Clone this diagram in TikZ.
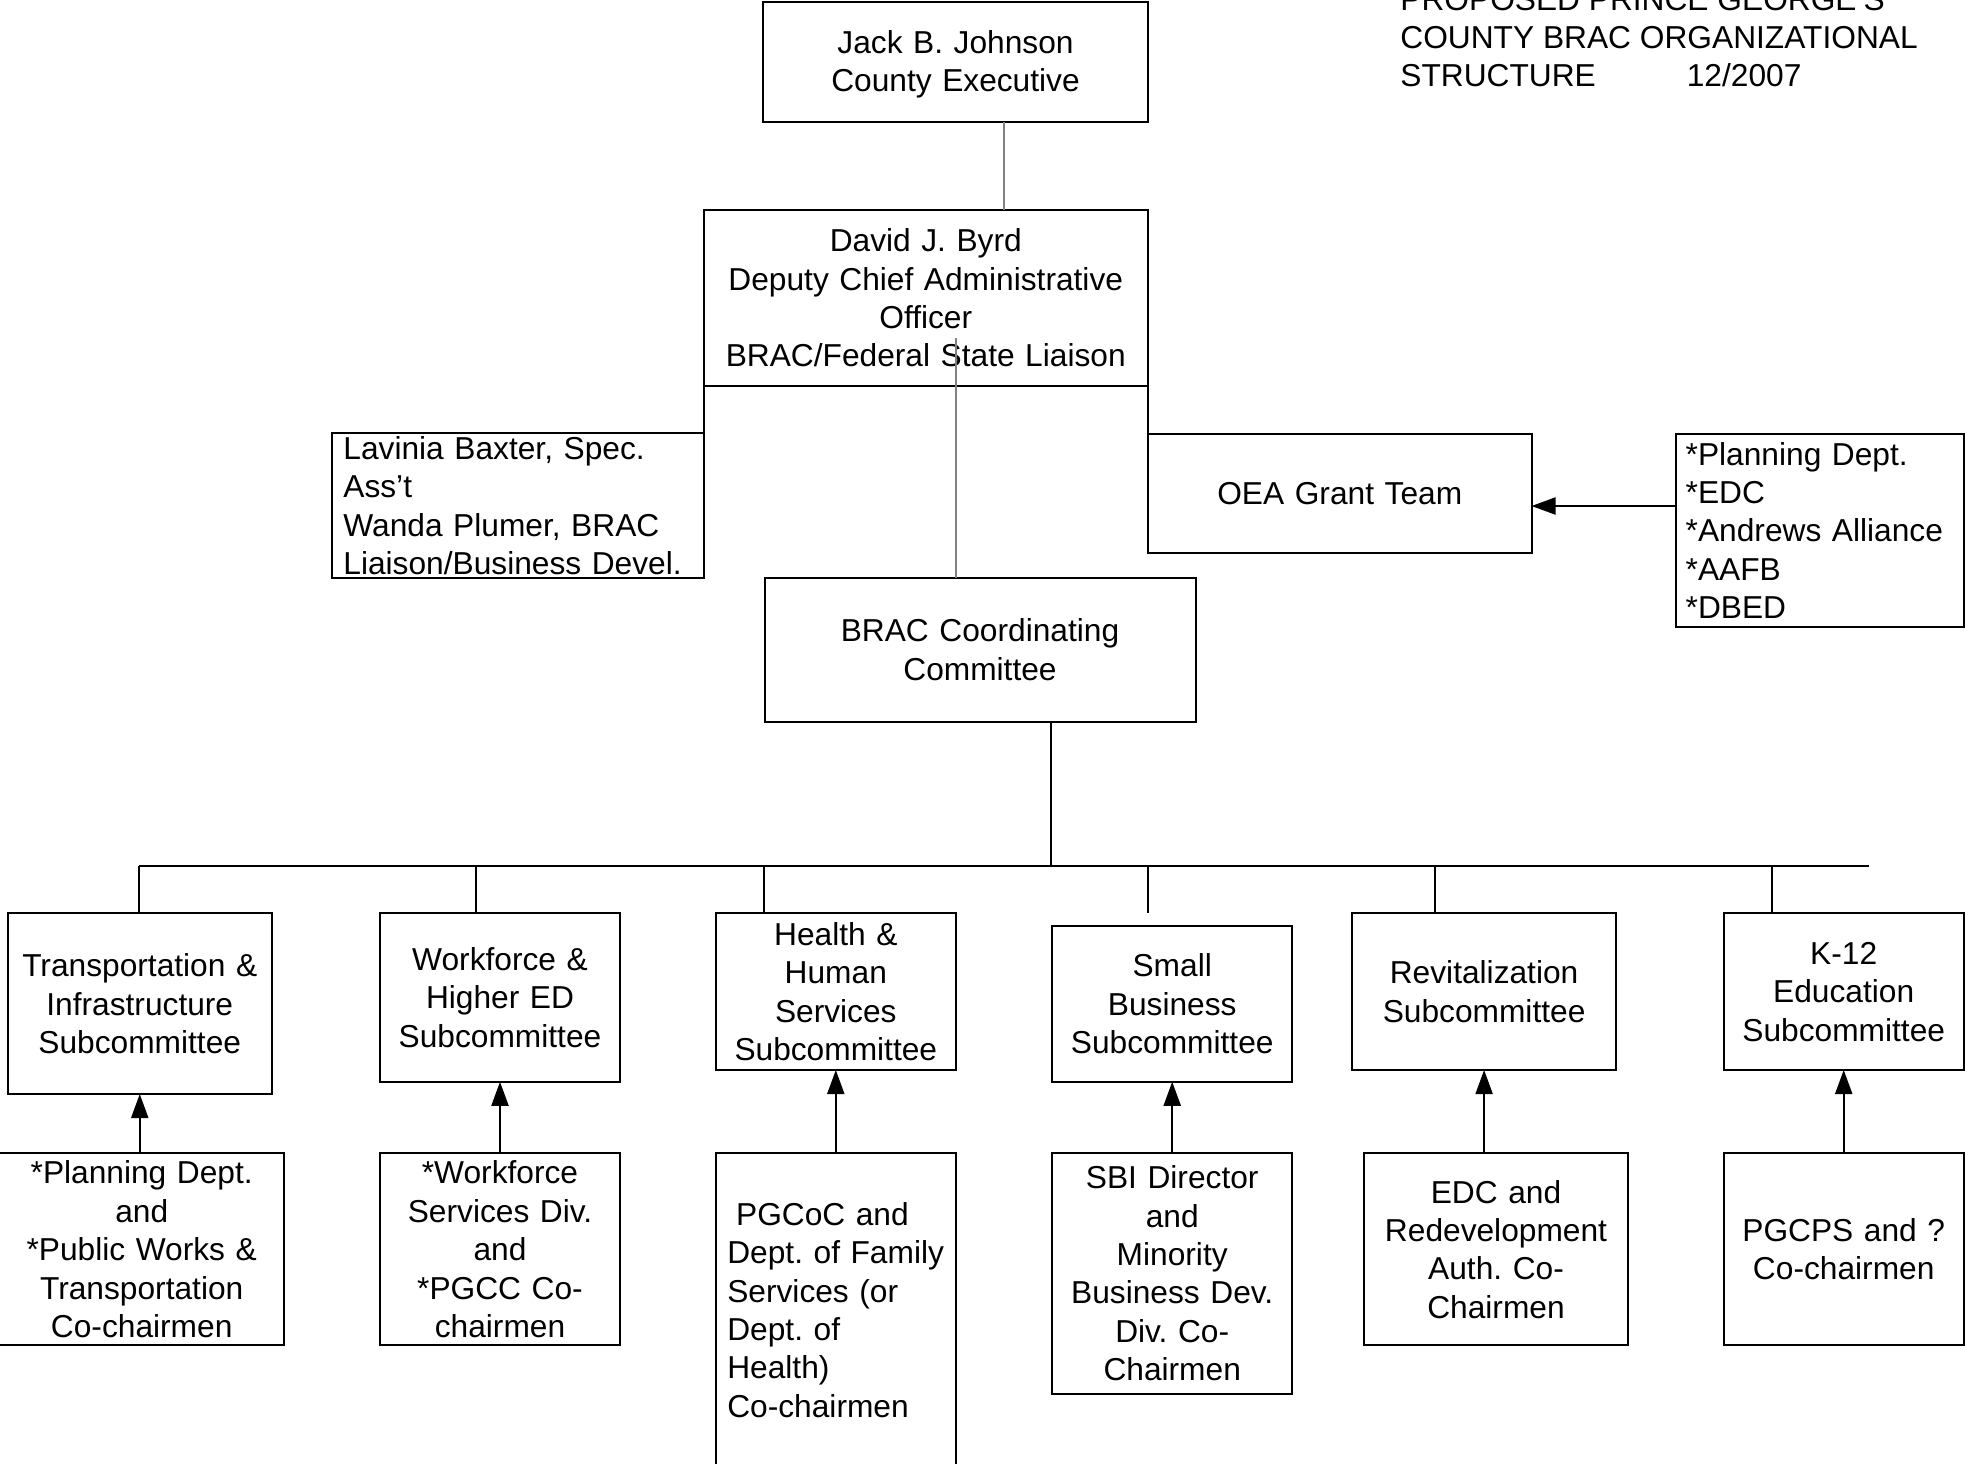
\documentclass[tikz,border=0pt]{standalone}
\usepackage{fontspec}
\setmainfont{Liberation Sans}
\usetikzlibrary{arrows.meta,calc}
\newcommand\chartfont{\fontsize{31.7}{38.4}\selectfont\frenchspacing\hyphenpenalty 10000\relax}

\begin{document}
\begin{tikzpicture}[x=1pt,y=-1pt,line width=2pt,
  every node/.style={font=\chartfont},
  box/.style={draw,outer sep=0pt,inner xsep=4pt,inner ysep=0pt,align=center},
  leftbox/.style={draw,outer sep=0pt,inner ysep=0pt,align=left},
  grayline/.style={draw=gray},
  arr/.style={-{Triangle[length=24pt,width=17pt]}}]
  \useasboundingbox (0,0) rectangle (1965,1464);
  % title
  \node[anchor=north west,inner sep=0pt,align=left] (title) at (1399.4,-13)
    {PROPOSED PRINCE GEORGE’S\\COUNTY BRAC ORGANIZATIONAL\\STRUCTURE\hspace*{91pt}12/2007};
  % top of the chart
  \node[box,minimum width=385pt,minimum height=120pt,text width=377pt] (jack) at (955.5,62)
    {\rule{0pt}{28pt}Jack B. Johnson\\County Executive};
  \node[box,minimum width=444.5pt,minimum height=176pt,text width=436.5pt] (byrd) at (925.75,298)
    {David J. Byrd\\Deputy Chief Administrative\\Officer\\BRAC/Federal State Liaison};
  \node[leftbox,inner xsep=11.9pt,minimum width=372pt,minimum height=144.4pt,text width=348.2pt] (lavinia) at (517.5,505.5)
    {Lavinia Baxter, Spec.\\Ass’t\\Wanda Plumer, BRAC\\Liaison/Business Devel.};
  \node[box,minimum width=383.5pt,minimum height=119pt,text width=375.5pt] (oea) at (1339.75,493.5)
    {OEA Grant Team};
  \node[leftbox,inner xsep=10pt,minimum width=288.6pt,minimum height=192.7pt,text width=268.6pt] (members) at (1820,530.35)
    {*Planning Dept.\\{}*EDC\\{}*Andrews Alliance\\{}*AAFB\\{}*DBED};
  \node[box,minimum width=431pt,minimum height=144pt,text width=423pt] (brac) at (980,649.75)
    {BRAC Coordinating\\Committee};
  % subcommittees
  \node[box,minimum width=264.5pt,minimum height=180.6pt,text width=256.5pt] (trans) at (139.75,1003.7)
    {Transportation \&\\Infrastructure\\Subcommittee};
  \node[box,minimum width=240pt,minimum height=168.4pt,text width=232pt] (work) at (500,997.6)
    {Workforce \&\\Higher ED\\Subcommittee};
  \node[box,minimum width=240.4pt,minimum height=156.6pt,text width=232.4pt] (health) at (835.8,991.7)
    {Health \&\\Human\\Services\\Subcommittee};
  \node[box,minimum width=240pt,minimum height=155.5pt,text width=232pt] (small) at (1172.2,1004)
    {Small\\Business\\Subcommittee};
  \node[box,minimum width=264.4pt,minimum height=156.6pt,text width=256.4pt] (revit) at (1484.1,991.7)
    {Revitalization\\Subcommittee};
  \node[box,minimum width=240pt,minimum height=156.6pt,text width=232pt] (kedu) at (1843.7,991.7)
    {K-12\\Education\\Subcommittee};
  % co-chairmen
  \node[box,minimum width=285.4pt,minimum height=191.9pt,text width=277.4pt] (trans-co) at (141.7,1249.35)
    {*Planning Dept.\\and\\{}*Public Works \&\\Transportation\\Co-chairmen};
  \node[box,minimum width=240pt,minimum height=191.9pt,text width=232pt] (work-co) at (500,1249.35)
    {*Workforce\\Services Div.\\and\\{}*PGCC Co-\\chairmen};
  \node[leftbox,inner xsep=11.7pt,minimum width=240.4pt,minimum height=313pt,text width=217pt] (health-co) at (835.8,1309.9)
    {\hspace*{8.8pt}PGCoC and\\Dept. of Family\\Services (or\\Dept. of\\Health)\\Co-chairmen};
  \node[box,minimum width=240pt,minimum height=240.1pt,text width=232pt] (small-co) at (1172.2,1273.45)
    {SBI Director\\and\\Minority\\Business Dev.\\Div. Co-\\Chairmen};
  \node[box,minimum width=263.2pt,minimum height=191.9pt,text width=255.2pt] (revit-co) at (1496,1249.35)
    {EDC and\\Redevelopment\\Auth. Co-\\Chairmen};
  \node[box,minimum width=240pt,minimum height=191.9pt,text width=232pt] (kedu-co) at (1843.7,1249.35)
    {PGCPS and ?\\Co-chairmen};
  % connectors
  \coordinate (jb) at (1004,122);
  \draw[grayline] (jb) -- (jb |- byrd.north);
  \coordinate (bc) at (955.7,338);
  \draw[grayline] (bc) -- (bc |- brac.north);
  \draw (byrd.south west) -- (lavinia.north east);
  \draw (byrd.south east) -- (oea.north west);
  \coordinate (oa) at ([yshift=-12.5pt]oea.east);
  \draw[arr] (oa -| members.west) -- (oa);
  \coordinate (bus) at (139.4,865.7);
  \coordinate (busend) at (1868.7,865.7);
  \draw (bus) -- (busend);
  \coordinate (stem) at ([xshift=71.4pt]brac.south);
  \draw (stem) -- (stem |- bus);
  \foreach \s/\x in {trans/139.4,work/476,health/763.5,revit/1435.4,kedu/1771.5}
    \draw (bus -| \x,0) -- (\s.north -| \x,0);
  \coordinate (smalltop) at (1147.7,913.4);
  \draw (bus -| smalltop) -- (smalltop);
  \foreach \s in {trans,work,health,small,revit,kedu}
    \draw[arr] (\s-co.north -| \s.south) -- (\s.south);
\end{tikzpicture}
\end{document}
